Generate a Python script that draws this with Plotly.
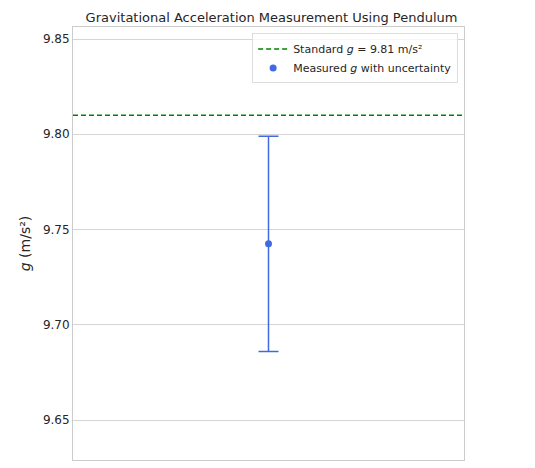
import plotly.graph_objects as go

measured_g = [9.7425]
g_err = [0.0565]
x_pos = [0]
standard_g = 9.81

fig = go.Figure()
fig.add_trace(go.Scatter(x=[-1, 1], y=[standard_g, standard_g], mode="lines",
    line=dict(color="green", dash="5px,3px", width=1.5),
    name="Standard <i>g</i> = 9.81 m/s²"))
fig.add_trace(go.Scatter(x=x_pos, y=measured_g, mode="markers",
    marker=dict(color="royalblue", size=7),
    error_y=dict(type="data", array=g_err, color="royalblue", thickness=1.5, width=10),
    name="Measured <i>g</i> with uncertainty"))
fig.update_layout(
    width=527, height=460, template="plotly_white",
    margin=dict(l=65, r=71, t=19, b=8),
    font=dict(family="DejaVu Sans", size=12, color="#262626"),
    title=dict(text="Gravitational Acceleration Measurement Using Pendulum", x=0.5, xanchor="center",
               y=0.99, yanchor="top", font=dict(size=13)),
    xaxis=dict(range=[-1, 1], showticklabels=False, showgrid=False, zeroline=False,
               showline=True, linecolor="#cccccc", mirror=True),
    yaxis=dict(range=[9.629, 9.8563], tickvals=[9.65, 9.70, 9.75, 9.80, 9.85],
               ticktext=["9.65", "9.70", "9.75", "9.80", "9.85"],
               gridcolor="#d5d5d5", zeroline=False, showline=True, linecolor="#cccccc", mirror=True,
               title=dict(text="<i>g</i> (m/s²)", standoff=8)),
    legend=dict(x=0.985, y=0.985, xanchor="right", yanchor="top", bgcolor="rgba(255,255,255,0.8)",
                bordercolor="#dddddd", borderwidth=1, font=dict(size=11)),
    plot_bgcolor="white",
)
fig.write_html("out.html")
